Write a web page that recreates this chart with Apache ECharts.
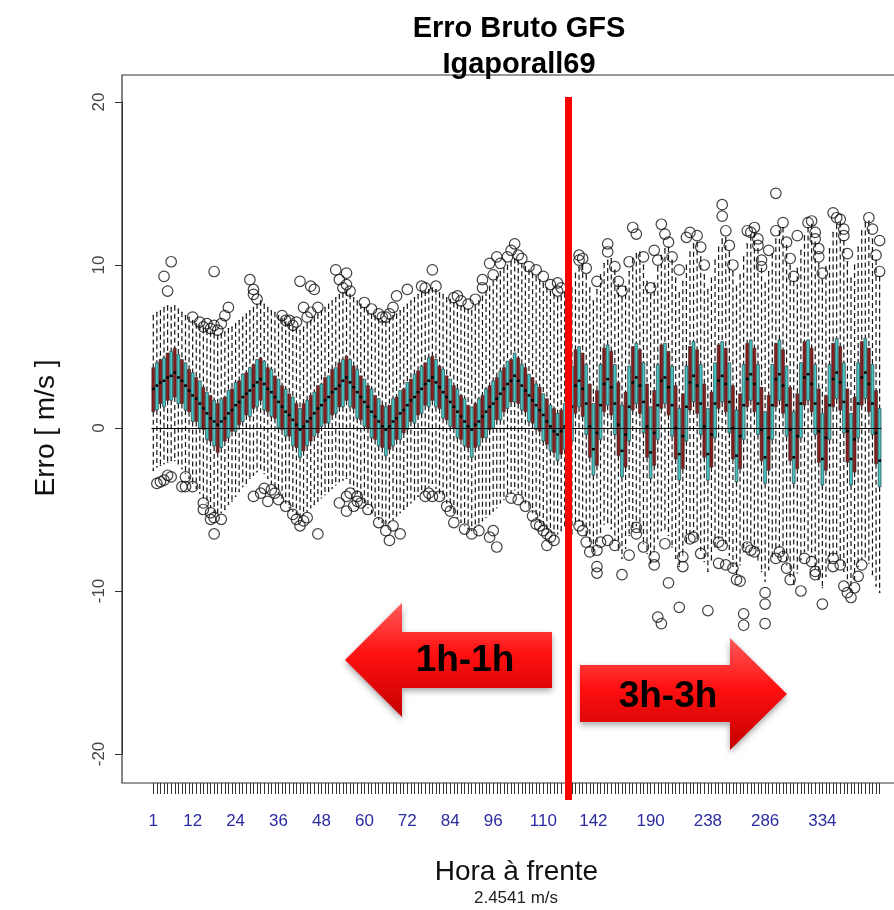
<!DOCTYPE html>
<html>
<head>
<meta charset="utf-8">
<title>Erro Bruto GFS</title>
<script src="https://cdn.jsdelivr.net/npm/echarts@6/dist/echarts.min.js"></script>
<style>
  html, body { margin: 0; padding: 0; background: #fff; }
  #chart { width: 894px; height: 910px; }
</style>
</head>
<body>
<div id="chart"></div>
<script>
// horas de previsao: 1h-1h ate 116, depois 3h-3h
var hours = [
  1, 2, 3, 4, 5, 6, 7, 8, 9, 10, 11, 12, 13, 14, 15, 16, 17, 18, 19, 20, 21, 22, 23, 24,
  25, 26, 27, 28, 29, 30, 31, 32, 33, 34, 35, 36, 37, 38, 39, 40, 41, 42, 43, 44, 45, 46, 47, 48,
  49, 50, 51, 52, 53, 54, 55, 56, 57, 58, 59, 60, 61, 62, 63, 64, 65, 66, 67, 68, 69, 70, 71, 72,
  73, 74, 75, 76, 77, 78, 79, 80, 81, 82, 83, 84, 85, 86, 87, 88, 89, 90, 91, 92, 93, 94, 95, 96,
  97, 98, 99, 100, 101, 102, 103, 104, 105, 106, 107, 108, 109, 110, 111, 112, 113, 114, 115, 116,
  121, 124, 127, 130, 133, 136, 139, 142, 145, 148, 151, 154, 157, 160, 163, 166, 169, 172, 175, 178,
  181, 184, 187, 190, 193, 196, 199, 202, 205, 208, 211, 214, 217, 220, 223, 226, 229, 232, 235, 238,
  241, 244, 247, 250, 253, 256, 259, 262, 265, 268, 271, 274, 277, 280, 283, 286, 289, 292, 295, 298,
  301, 304, 307, 310, 313, 316, 319, 322, 325, 328, 331, 334, 337, 340, 343, 346, 349, 352, 355, 358,
  361, 364, 367, 370, 373, 376, 379, 382
];

// rotulos que aparecem no eixo x
var shownLabels = ['1', '12', '24', '36', '48', '60', '72', '84', '96', '110', '142', '190', '238', '286', '334'];

var median = [
  2.4, 2.6, 2.8, 2.9, 3.1, 3.2, 3.4, 3.1, 2.9, 2.6, 2.3, 2.0, 1.8, 1.5, 1.2, 0.9, 0.6, 0.4, 0.2, 0.4, 0.6, 0.9, 1.1, 1.4,
  1.6, 1.9, 2.1, 2.3, 2.6, 2.8, 3.0, 2.7, 2.4, 2.2, 1.9, 1.6, 1.3, 1.0, 0.8, 0.5, 0.2, -0.1, 0.1, 0.4, 0.6, 0.9, 1.2, 1.4,
  1.7, 1.9, 2.2, 2.4, 2.6, 2.9, 3.1, 2.8, 2.5, 2.2, 1.9, 1.6, 1.3, 1.0, 0.7, 0.4, 0.1, -0.1, 0.1, 0.4, 0.6, 0.9, 1.1, 1.4,
  1.7, 1.9, 2.2, 2.4, 2.7, 2.9, 3.1, 2.8, 2.5, 2.2, 1.9, 1.6, 1.3, 1.0, 0.7, 0.4, 0.1, -0.1, 0.2, 0.4, 0.7, 1.0, 1.3, 1.5,
  1.8, 2.1, 2.4, 2.7, 2.9, 3.2, 2.9, 2.6, 2.3, 2.0, 1.7, 1.4, 1.1, 0.8, 0.4, 0.1, -0.2, -0.4, -0.2, 0.1,
  -0.2, 1.3, 2.6, 2.9, 2.4, 1.5, 0.1,
  -1.3, -0.3, 1.4, 2.7, 3.0, 2.5, 1.5, 0.2,
  -1.4, -0.4, 1.3, 2.8, 3.1, 2.6, 1.6, 0.1,
  -1.5, -0.3, 1.4, 2.9, 3.1, 2.5, 1.4, 0.0,
  -1.6, -0.5, 1.3, 2.8, 3.2, 2.6, 1.5, 0.1,
  -1.6, -0.4, 1.5, 2.9, 3.2, 2.7, 1.6, 0.0,
  -1.7, -0.5, 1.4, 3.0, 3.3, 2.7, 1.5, -0.1,
  -1.8, -0.6, 1.4, 3.0, 3.3, 2.6, 1.4, -0.1,
  -1.8, -0.5, 1.5, 3.1, 3.3, 2.7, 1.5, -0.2,
  -1.9, -0.6, 1.4, 3.0, 3.4, 2.8, 1.6, -0.2,
  -1.9, -0.7, 1.5, 3.1, 3.4, 2.7, 1.5, -0.3,
  -2.0
];

var q3 = [
  3.7, 4.0, 4.2, 4.3, 4.6, 4.7, 4.9, 4.5, 4.2, 4.0, 3.6, 3.4, 3.1, 2.9, 2.5, 2.2, 2.0, 1.7, 1.5, 1.8, 1.9, 2.3, 2.4, 2.8,
  2.9, 3.3, 3.4, 3.7, 3.9, 4.2, 4.3, 4.1, 3.7, 3.6, 3.2, 3.0, 2.6, 2.4, 2.1, 1.9, 1.5, 1.2, 1.5, 1.7, 2.0, 2.2, 2.6, 2.7,
  3.1, 3.2, 3.6, 3.7, 4.0, 4.2, 4.4, 4.2, 3.8, 3.6, 3.2, 3.0, 2.6, 2.4, 2.0, 1.8, 1.4, 1.3, 1.4, 1.8, 1.9, 2.3, 2.4, 2.8,
  3.0, 3.3, 3.5, 3.8, 4.0, 4.3, 4.4, 4.2, 3.8, 3.6, 3.2, 3.0, 2.6, 2.4, 2.0, 1.8, 1.4, 1.3, 1.5, 1.8, 2.0, 2.4, 2.6, 2.9,
  3.1, 3.5, 3.7, 4.1, 4.2, 4.6, 4.3, 3.9, 3.7, 3.3, 3.1, 2.7, 2.5, 2.1, 1.8, 1.4, 1.2, 0.9, 1.1, 1.5,
  2.4, 3.8, 4.8, 5.0, 4.6, 3.9, 2.7,
  1.5, 2.3, 3.9, 4.9, 5.1, 4.7, 3.9, 2.8,
  1.4, 2.2, 3.8, 5.0, 5.2, 4.8, 4.0, 2.7,
  1.3, 2.3, 3.9, 5.1, 5.2, 4.7, 3.8, 2.6,
  1.2, 2.1, 3.8, 5.0, 5.3, 4.8, 3.9, 2.7,
  1.2, 2.2, 4.0, 5.1, 5.3, 4.9, 4.0, 2.6,
  1.1, 2.1, 3.9, 5.2, 5.4, 4.9, 3.9, 2.5,
  1.0, 2.0, 3.9, 5.2, 5.4, 4.8, 3.8, 2.5,
  1.0, 2.1, 4.0, 5.3, 5.4, 4.9, 3.9, 2.4,
  0.9, 2.0, 3.9, 5.2, 5.5, 5.0, 4.0, 2.4,
  0.9, 1.9, 4.0, 5.3, 5.5, 4.9, 3.9, 2.3,
  1.2
];

var q1 = [
  1.0, 1.1, 1.5, 1.3, 1.7, 1.7, 1.9, 1.5, 1.5, 1.1, 1.0, 0.4, 0.4, 0.0, -0.1, -0.7, -0.8, -1.1, -1.5, -1.2, -0.8, -0.6, -0.2, -0.2,
  0.2, 0.4, 0.8, 0.7, 1.2, 1.3, 1.7, 1.1, 1.0, 0.7, 0.6, 0.0, -0.1, -0.5, -0.5, -1.1, -1.2, -1.8, -1.4, -1.1, -0.8, -0.5, -0.3, 0.1,
  0.3, 0.3, 0.8, 0.9, 1.3, 1.3, 1.7, 1.3, 1.2, 0.6, 0.5, 0.1, 0.0, -0.6, -0.7, -1.1, -1.2, -1.7, -1.3, -1.1, -0.7, -0.7, -0.3, -0.1,
  0.4, 0.3, 0.8, 0.9, 1.4, 1.3, 1.7, 1.3, 1.2, 0.6, 0.5, 0.1, 0.0, -0.6, -0.7, -1.1, -1.2, -1.8, -1.2, -1.1, -0.6, -0.6, -0.1, 0.0,
  0.5, 0.5, 1.0, 1.2, 1.6, 1.6, 1.5, 1.1, 1.0, 0.4, 0.3, -0.1, -0.2, -0.8, -1.0, -1.4, -1.5, -2.0, -1.6, -1.3,
  -2.2, -0.8, 0.9, 1.3, 0.7, -0.4, -1.8,
  -2.9, -2.3, -0.7, 1.0, 1.4, 0.8, -0.4, -1.7,
  -3.0, -2.4, -0.8, 1.1, 1.5, 0.9, -0.3, -1.8,
  -3.1, -2.3, -0.7, 1.2, 1.5, 0.8, -0.5, -1.9,
  -3.2, -2.5, -0.8, 1.1, 1.6, 0.9, -0.4, -1.8,
  -3.2, -2.4, -0.6, 1.2, 1.6, 1.0, -0.3, -1.9,
  -3.3, -2.5, -0.7, 1.3, 1.7, 1.0, -0.4, -2.0,
  -3.4, -2.6, -0.7, 1.3, 1.7, 0.9, -0.5, -2.0,
  -3.4, -2.5, -0.6, 1.4, 1.7, 1.0, -0.4, -2.1,
  -3.5, -2.6, -0.7, 1.3, 1.8, 1.1, -0.3, -2.1,
  -3.5, -2.7, -0.6, 1.4, 1.8, 1.0, -0.4, -2.2,
  -3.6
];

var whiskerHigh = [
  6.9, 7.1, 7.2, 7.4, 7.5, 7.4, 7.5, 7.3, 7.1, 6.9, 6.8, 6.6, 6.4, 6.3, 6.1, 6.0, 5.9, 5.8, 5.7, 5.8, 5.9, 6.1, 6.2, 6.4,
  6.6, 6.8, 7.0, 7.2, 7.4, 7.6, 7.8, 7.6, 7.4, 7.2, 7.1, 6.9, 6.7, 6.5, 6.4, 6.2, 6.1, 6.0, 6.2, 6.4, 6.6, 6.8, 7.0, 7.2,
  7.4, 7.6, 7.8, 8.0, 8.2, 8.3, 8.4, 8.2, 8.0, 7.8, 7.6, 7.4, 7.2, 7.0, 6.9, 6.7, 6.6, 6.5, 6.7, 6.9, 7.0, 7.2, 7.4, 7.6,
  7.8, 8.0, 8.2, 8.3, 8.4, 8.5, 8.6, 8.5, 8.3, 8.2, 8.0, 7.9, 7.7, 7.6, 7.5, 7.4, 7.3, 7.2, 7.5, 7.8, 8.1, 8.4, 8.7, 9.0,
  9.3, 9.6, 9.8, 10.0, 10.2, 10.4, 10.3, 10.1, 9.9, 9.7, 9.5, 9.3, 9.1, 8.9, 8.6, 8.4, 8.2, 8.0, 8.1, 8.3,
  7.6, 8.6, 9.5, 9.9, 10.0, 9.4, 8.6,
  7.8, 8.5, 9.4, 10.1, 10.3, 10.4, 9.7, 8.8,
  8.0, 8.7, 9.6, 10.4, 10.7, 10.8, 10.0, 9.0,
  8.2, 8.9, 9.9, 10.6, 11.0, 11.1, 10.3, 9.2,
  8.3, 9.0, 10.0, 10.8, 11.3, 11.4, 10.5, 9.4,
  8.5, 9.2, 10.3, 11.1, 11.6, 11.7, 10.8, 9.6,
  8.7, 9.4, 10.5, 11.3, 11.8, 12.0, 11.0, 9.8,
  8.9, 9.6, 10.7, 11.6, 12.1, 12.3, 11.2, 10.0,
  9.0, 9.8, 10.9, 11.8, 12.3, 12.5, 11.4, 10.1,
  9.1, 9.9, 11.0, 12.0, 12.5, 12.6, 11.5, 10.2,
  9.2, 10.0, 11.1, 12.1, 12.6, 12.7, 11.6, 10.3,
  9.3
];

var whiskerLow = [
  -2.6, -2.4, -2.3, -2.2, -2.1, -2.0, -2.0, -2.2, -2.5, -2.8, -3.1, -3.4, -3.7, -4.0, -4.3, -4.6, -4.9, -5.2, -5.4, -5.2, -5.0, -4.7, -4.5, -4.2,
  -3.9, -3.6, -3.4, -3.1, -2.9, -2.7, -2.5, -2.8, -3.1, -3.4, -3.7, -4.0, -4.3, -4.6, -4.9, -5.1, -5.3, -5.5, -5.3, -5.1, -4.9, -4.7, -4.5, -4.3,
  -4.1, -3.9, -3.7, -3.5, -3.3, -3.2, -3.1, -3.4, -3.7, -4.0, -4.3, -4.6, -4.9, -5.2, -5.4, -5.6, -5.8, -6.0, -5.8, -5.6, -5.4, -5.2, -5.0, -4.8,
  -4.6, -4.4, -4.2, -4.0, -3.8, -3.6, -3.4, -3.7, -4.0, -4.3, -4.6, -4.9, -5.2, -5.5, -5.8, -6.0, -6.2, -6.3, -6.1, -5.9, -5.7, -5.5, -5.3, -5.1,
  -4.9, -4.6, -4.4, -4.2, -4.0, -3.8, -4.0, -4.3, -4.6, -4.9, -5.2, -5.5, -5.8, -6.0, -6.2, -6.3, -6.4, -6.5, -6.3, -6.0,
  -7.2, -6.5, -5.9, -5.7, -6.0, -6.6, -7.3,
  -7.8, -7.2, -6.4, -5.9, -5.8, -6.2, -6.9, -7.5,
  -8.0, -7.4, -6.6, -6.1, -6.0, -6.4, -7.1, -7.7,
  -8.3, -7.6, -6.8, -6.3, -6.2, -6.6, -7.3, -8.0,
  -8.5, -7.8, -7.0, -6.5, -6.4, -6.8, -7.5, -8.2,
  -8.8, -8.1, -7.3, -6.8, -6.7, -7.1, -7.8, -8.5,
  -9.1, -8.4, -7.6, -7.1, -7.0, -7.4, -8.1, -8.8,
  -9.4, -8.7, -7.9, -7.4, -7.3, -7.7, -8.4, -9.1,
  -9.6, -8.9, -8.1, -7.6, -7.5, -7.9, -8.6, -9.3,
  -9.8, -9.1, -8.3, -7.8, -7.7, -8.1, -8.8, -9.5,
  -10.0, -9.3, -8.5, -8.0, -7.9, -8.3, -9.0, -9.7,
  -10.1
];

// outliers: [indice da caixa, erro]
var outliers = [
  [5, 10.2], [3, 9.3], [4, 8.4], [17, 9.6], [27, 9.1], [28, 8.5], [28, 8.2], [29, 7.9], [21, 7.4],
  [11, 6.8], [13, 6.5], [14, 6.2], [15, 6.4], [17, 6.3], [18, 6.0], [19, 6.4], [20, 6.9], [16, 6.1],
  [36, 6.9], [37, 6.6], [38, 6.6], [39, 6.3],
  [41, 9.0], [44, 8.7], [45, 8.5], [42, 7.4], [44, 7.1], [46, 7.4], [43, 6.8], [40, 6.5],
  [51, 9.7], [54, 9.5], [54, 8.8], [52, 9.1], [53, 8.6], [55, 8.4],
  [59, 7.7], [61, 7.3], [63, 7.0], [65, 6.8], [66, 7.0], [64, 6.8],
  [68, 8.1], [71, 8.5], [75, 8.7], [76, 8.6], [79, 8.7], [78, 9.7], [67, 7.4],
  [84, 8.0], [86, 7.8], [88, 7.6], [90, 7.9], [85, 8.1],
  [92, 9.1], [94, 10.1], [96, 10.5], [97, 10.1], [99, 10.5], [100, 10.9], [101, 11.3], [95, 9.4], [92, 8.6],
  [102, 10.6], [103, 10.4], [105, 9.9], [107, 9.7], [109, 9.3], [111, 8.8], [113, 8.9], [113, 8.4], [114, 8.6],
  [1, -3.4], [2, -3.3], [3, -3.2], [5, -3.0], [8, -3.6], [9, -3.6], [9, -3.0], [11, -3.6], [4, -2.9],
  [14, -4.6], [14, -5.0], [16, -5.2], [17, -5.5], [17, -6.5], [19, -5.6], [16, -5.6],
  [28, -4.2], [30, -4.0], [31, -3.7], [32, -4.5], [33, -3.8], [34, -4.0], [35, -4.4],
  [37, -4.8], [39, -5.3], [40, -5.6], [41, -6.0], [43, -5.5], [46, -6.5], [42, -5.7],
  [52, -4.6], [54, -4.2], [55, -4.0], [56, -4.8], [57, -4.2], [54, -5.1],
  [57, -4.5], [58, -4.6], [60, -5.0], [63, -5.8],
  [65, -6.3], [66, -6.9], [69, -6.5], [67, -6.0],
  [76, -4.2], [78, -4.2], [80, -4.2], [82, -4.8], [83, -5.1], [84, -5.8], [87, -6.2], [89, -6.5],
  [91, -6.3], [94, -6.7], [96, -7.3], [95, -6.3], [77, -4.0],
  [100, -4.3], [102, -4.4], [104, -4.8], [106, -5.4], [108, -6.0], [109, -6.3], [110, -6.5],
  [111, -6.7], [112, -6.9], [110, -7.2], [107, -5.9],
  [119, 10.3], [119, 10.6], [120, 10.4], [121, 9.8], [124, 9.0], [127, 10.8], [127, 11.3], [129, 9.9], [130, 9.0], [131, 8.4],
  [134, 12.3], [135, 11.9], [133, 10.2], [137, 10.5], [139, 8.6], [140, 10.9], [141, 10.3], [142, 12.5], [143, 11.9],
  [144, 11.4], [145, 10.5],
  [147, 9.7], [149, 11.7], [150, 12.0], [152, 11.8], [154, 10.0], [153, 11.1],
  [159, 13.7], [159, 13.0], [160, 12.1], [161, 11.2], [162, 10.0],
  [167, 12.0], [168, 12.3], [169, 11.6], [169, 11.2], [170, 10.3], [170, 9.9], [166, 12.1],
  [174, 14.4], [174, 12.1], [176, 12.6], [172, 10.9], [177, 11.4], [179, 9.3], [178, 10.4],
  [180, 11.8], [183, 12.6], [184, 12.7], [185, 12.0], [185, 11.6], [186, 11.0], [187, 9.5], [186, 10.5],
  [190, 13.2], [191, 12.9], [192, 12.8], [193, 12.2], [193, 11.8], [194, 10.7],
  [200, 12.9], [201, 12.2], [203, 11.5], [203, 9.6], [202, 10.6],
  [119, -6.0], [120, -6.3], [122, -7.6], [121, -7.0], [124, -7.5], [124, -8.5], [124, -8.9], [125, -7.0], [127, -6.9], [129, -7.2],
  [131, -9.0], [133, -7.8], [135, -6.5], [135, -6.1], [137, -7.3], [140, -7.9], [140, -8.4], [141, -11.6], [142, -12.0],
  [144, -9.5], [143, -7.1],
  [147, -11.0], [148, -8.5], [148, -7.9], [151, -6.7], [153, -7.7], [150, -6.8], [155, -11.2], [158, -7.0], [159, -7.2],
  [158, -8.3], [160, -8.4],
  [162, -8.6], [163, -9.3], [164, -9.4], [165, -11.4], [165, -12.1], [171, -10.1], [171, -10.8], [171, -12.0],
  [166, -7.3], [167, -7.5], [168, -7.6],
  [174, -8.0], [175, -7.6], [176, -7.9], [177, -8.6], [178, -9.3],
  [181, -10.0], [182, -8.0], [184, -8.2], [185, -8.8], [185, -9.0], [187, -10.8],
  [190, -8.0], [190, -8.5], [192, -8.4], [193, -9.7], [194, -10.1], [195, -10.4], [196, -9.8], [197, -9.1], [198, -8.4]
];

var boxColors = ['#8b1c1c', '#43c6c6'];
var fontFamily = '"Liberation Sans", Arial, sans-serif';

var boxData = hours.map(function (h, i) {
  return [i, whiskerLow[i], q1[i], median[i], q3[i], whiskerHigh[i]];
});

// desenha uma caixa no estilo do boxplot do R (bigodes tracejados)
function renderBox(params, api) {
  var i = api.value(0);
  var w = api.size([1, 0])[0] * 0.8;
  var pLo = api.coord([i, api.value(1)]);
  var pQ1 = api.coord([i, api.value(2)]);
  var pMed = api.coord([i, api.value(3)]);
  var pQ3 = api.coord([i, api.value(4)]);
  var pHi = api.coord([i, api.value(5)]);
  var x = pMed[0];
  var dash = { stroke: '#151515', lineWidth: 1.2, lineDash: [5, 3] };
  var solid = { stroke: '#151515', lineWidth: 1 };
  return {
    type: 'group',
    children: [
      { type: 'line', shape: { x1: x, y1: pHi[1], x2: x, y2: pQ3[1] }, style: dash },
      { type: 'line', shape: { x1: x, y1: pQ1[1], x2: x, y2: pLo[1] }, style: dash },
      { type: 'line', shape: { x1: x - w / 4, y1: pHi[1], x2: x + w / 4, y2: pHi[1] }, style: solid },
      { type: 'line', shape: { x1: x - w / 4, y1: pLo[1], x2: x + w / 4, y2: pLo[1] }, style: solid },
      {
        type: 'rect',
        shape: { x: x - w / 2, y: pQ3[1], width: w, height: pQ1[1] - pQ3[1] },
        style: { fill: boxColors[i % 2], stroke: '#222', lineWidth: 0.6 }
      },
      { type: 'line', shape: { x1: x - w / 2, y1: pMed[1], x2: x + w / 2, y2: pMed[1] }, style: { stroke: '#000', lineWidth: 2.5 } }
    ]
  };
}

var arrowFill = new echarts.graphic.LinearGradient(0, 0, 0, 1, [
  { offset: 0, color: '#ff5a5a' },
  { offset: 0.45, color: '#ff1010' },
  { offset: 1, color: '#c40000' }
]);

var chart = echarts.init(document.getElementById('chart'));

var option = {
  backgroundColor: '#fff',
  animation: false,
  title: {
    text: 'Erro Bruto GFS\nIgaporall69',
    left: 514,
    top: 6,
    textAlign: 'center',
    textStyle: { fontFamily: fontFamily, fontSize: 29, fontWeight: 'bold', lineHeight: 36, color: '#000' }
  },
  grid: { left: 151.5, right: 12.6, top: 102, bottom: 156 },
  xAxis: {
    type: 'category',
    data: hours.map(String),
    offset: 29,
    name: 'Hora à frente',
    nameLocation: 'middle',
    nameGap: 75,
    nameTextStyle: { fontFamily: fontFamily, fontSize: 28, color: '#111' },
    axisLine: { show: false, onZero: false },
    axisTick: { show: true, interval: 0, alignWithLabel: true, length: 11, lineStyle: { color: '#333', width: 1 } },
    axisLabel: {
      interval: function (index, value) { return shownLabels.indexOf(String(value)) !== -1; },
      margin: 30,
      fontFamily: fontFamily,
      fontSize: 17,
      color: '#2b2ba0'
    },
    splitLine: { show: false }
  },
  yAxis: {
    type: 'value',
    min: -20,
    max: 20,
    interval: 10,
    offset: 29.5,
    name: 'Erro [ m/s ]',
    nameLocation: 'middle',
    nameGap: 62,
    nameTextStyle: { fontFamily: fontFamily, fontSize: 28, color: '#111' },
    axisLine: { show: true, onZero: false, lineStyle: { color: '#333', width: 1 } },
    axisTick: { show: true, length: 7, lineStyle: { color: '#333' } },
    axisLabel: { rotate: 90, margin: 14, fontFamily: fontFamily, fontSize: 17, color: '#444' },
    splitLine: { show: false }
  },
  series: [
    {
      type: 'custom',
      renderItem: renderBox,
      data: boxData,
      encode: { x: 0, y: [1, 2, 3, 4, 5] },
      z: 2
    },
    {
      type: 'scatter',
      data: outliers,
      symbol: 'circle',
      symbolSize: 10.5,
      itemStyle: { color: 'rgba(255,255,255,0)', borderColor: '#111', borderWidth: 1.2 },
      z: 3,
      markLine: {
        silent: true,
        symbol: ['none', 'none'],
        label: { show: false },
        lineStyle: { color: '#000', width: 1, type: 'solid' },
        data: [{ yAxis: 0 }]
      }
    }
  ],
  graphic: [
    {
      type: 'rect',
      z: 1,
      shape: { x: 122, y: 75, width: 789, height: 708 },
      style: { fill: 'none', stroke: '#333', lineWidth: 1.2 }
    },
    {
      type: 'text',
      z: 10,
      style: { text: '2.4541 m/s', x: 516, y: 898, align: 'center', verticalAlign: 'middle', font: '17px ' + fontFamily, fill: '#222' }
    },
    {
      type: 'line',
      z: 50,
      shape: { x1: 568.5, y1: 97, x2: 568.5, y2: 800 },
      style: { stroke: '#ff0000', lineWidth: 7 }
    },
    {
      type: 'polygon',
      z: 60,
      shape: { points: [[345, 660], [402, 603], [402, 632], [552, 632], [552, 688], [402, 688], [402, 717]] },
      style: { fill: arrowFill, shadowBlur: 6, shadowOffsetY: 3, shadowColor: 'rgba(0,0,0,0.35)' }
    },
    {
      type: 'polygon',
      z: 60,
      shape: { points: [[580, 665], [730, 665], [730, 638], [787, 694], [730, 750], [730, 722], [580, 722]] },
      style: { fill: arrowFill, shadowBlur: 6, shadowOffsetY: 3, shadowColor: 'rgba(0,0,0,0.35)' }
    },
    {
      type: 'text',
      z: 70,
      style: { text: '1h-1h', x: 465, y: 661, align: 'center', verticalAlign: 'middle', font: 'bold 37px ' + fontFamily, fill: '#000' }
    },
    {
      type: 'text',
      z: 70,
      style: { text: '3h-3h', x: 668, y: 697, align: 'center', verticalAlign: 'middle', font: 'bold 37px ' + fontFamily, fill: '#000' }
    }
  ]
};

chart.setOption(option);
</script>
</body>
</html>
